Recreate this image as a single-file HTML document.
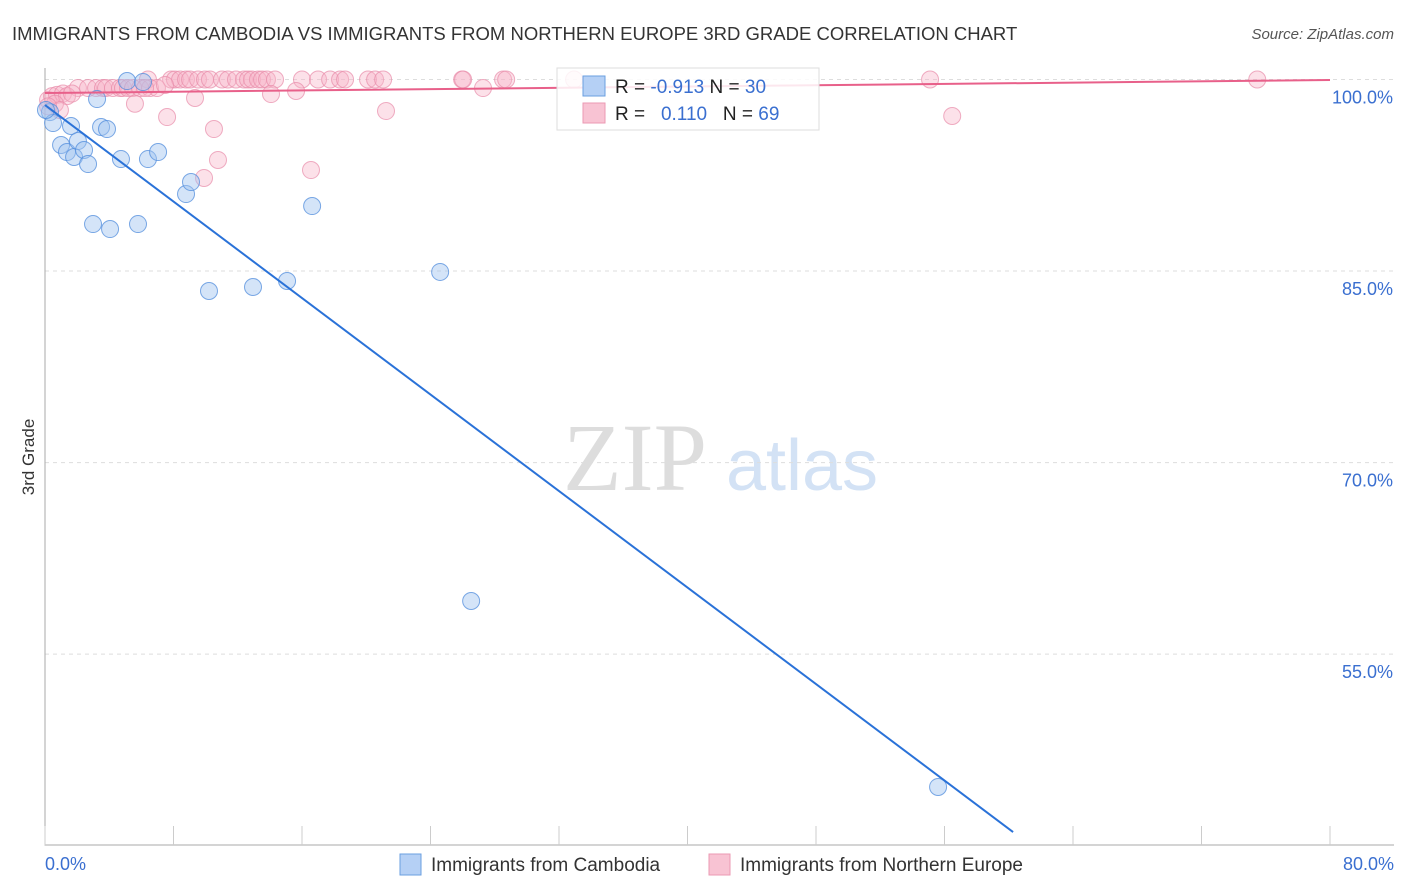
<!DOCTYPE html>
<html><head><meta charset="utf-8"><style>
body{margin:0;background:#fff;font-family:"Liberation Sans",sans-serif;}
#wrap{position:relative;width:1406px;height:892px;overflow:hidden;}
</style></head><body>
<div id="wrap">
<svg id="svg" width="1406" height="892" xmlns="http://www.w3.org/2000/svg">
<text x="12" y="40" font-size="18.5" fill="#333">IMMIGRANTS FROM CAMBODIA VS IMMIGRANTS FROM NORTHERN EUROPE 3RD GRADE CORRELATION CHART</text>
<text x="1394" y="39" font-size="15" fill="#555" font-style="italic" text-anchor="end">Source: ZipAtlas.com</text>
<text x="34" y="457" font-size="17" fill="#333" transform="rotate(-90 34 457)" text-anchor="middle">3rd Grade</text>
<g><text x="635" y="490" font-size="96" fill="#ddd" font-family="Liberation Serif,serif" text-anchor="middle">ZIP</text><text x="802" y="490" font-size="72" fill="#d3e2f5" text-anchor="middle">atlas</text></g>
<g id="grid"></g><g id="axes"></g><g id="pts"></g><g id="lines"></g>
<g>
<rect x="557" y="68" width="262" height="62" fill="rgba(255,255,255,0.85)" stroke="#ddd"/>
<rect x="583" y="76" width="22" height="20" fill="#b5d0f5" stroke="#6a9fe0"/>
<rect x="583" y="103" width="22" height="20" fill="#f8c3d3" stroke="#eb9ab3"/>
<text x="615" y="93" font-size="19" fill="#222">R = <tspan fill="#3a6fd0">-0.913</tspan>   N = <tspan fill="#3a6fd0">30</tspan></text>
<text x="615" y="120" font-size="19" fill="#222" xml:space="preserve">R =   <tspan fill="#3a6fd0">0.110</tspan>   N = <tspan fill="#3a6fd0">69</tspan></text>
</g>
<g>
<rect x="400" y="854" width="21" height="21" fill="#b5d0f5" stroke="#6a9fe0"/>
<text x="431" y="871" font-size="19" fill="#333">Immigrants from Cambodia</text>
<rect x="709" y="854" width="21" height="21" fill="#f8c3d3" stroke="#eb9ab3"/>
<text x="740" y="871" font-size="19" fill="#333">Immigrants from Northern Europe</text>
</g>
</svg></div>
<script>
const yTicks=[100,85,70,55];
const yTickLabels=["100.0%","85.0%","70.0%","55.0%"];
const xTicks=[0,8,16,24,32,40,48,56,64,72,80];
const xLabels=["0.0%","80.0%"];
const cambX=[0.31,0.50,0.06,1.62,1.00,1.37,1.81,2.05,2.43,2.68,3.24,3.49,3.86,2.99,4.05,4.73,5.11,5.79,6.10,6.41,7.04,8.78,9.09,10.21,12.95,15.07,16.63,24.60,26.53,55.60];
const cambY=[97.45,96.59,97.61,96.36,94.87,94.32,93.93,95.18,94.48,93.38,98.47,96.28,96.12,88.68,88.29,93.77,99.88,88.68,99.80,93.77,94.32,91.03,91.97,83.44,83.75,84.22,90.09,84.93,59.16,44.60];
const neX=[6.41,7.85,8.09,8.41,8.78,9.03,9.53,9.96,10.27,11.02,11.39,11.89,12.39,12.64,12.89,13.26,13.51,13.82,14.32,16.00,17.00,17.75,18.37,18.68,20.11,20.55,21.05,25.97,26.03,28.52,28.71,32.94,55.10,75.47,
2.05,2.68,3.18,3.61,3.80,4.23,4.67,4.86,5.17,5.48,5.92,6.54,6.97,
0.19,0.44,0.75,1.12,1.37,1.68,0.62,0.93,0.19,
5.6,7.6,9.34,10.52,10.77,9.9,14.07,15.63,16.56,21.23,27.27,56.48,6.23,7.47];
const neY=[100,100,100,100,100,100,100,100,100,100,100,100,100,100,100,100,100,100,100,100,100,100,100,100,100,100,100,100,100,100,100,100,100,100,
99.33,99.33,99.33,99.33,99.33,99.33,99.33,99.33,99.33,99.33,99.33,99.33,99.33,
98.4,98.7,98.8,98.9,98.7,98.9,98.1,97.6,97.9,
98.1,97.06,98.55,96.12,93.7,92.29,98.86,99.1,92.91,97.53,99.33,97.14,99.33,99.57];
const cambTrend=[[0,98.0],[60.27,41.07]];
const neTrend=[[0,98.94],[80,99.96]];
const X=v=>45+v*1285/80, Y=v=>79.5+(100-v)*12.77;
const NS="http://www.w3.org/2000/svg";
function mk(p,t,a){const e=document.createElementNS(NS,t);for(const k in a)e.setAttribute(k,a[k]);p.appendChild(e);return e;}
const grid=document.getElementById('grid'),axes=document.getElementById('axes'),pts=document.getElementById('pts'),lines=document.getElementById('lines');
yTicks.forEach((v,i)=>{
 const l=mk(grid,'line',{x1:45,x2:1394,y1:Y(v),y2:Y(v),stroke:'#ddd','stroke-dasharray':'4 4'});
 
 
 const t=mk(grid,'text',{x:1393,y:Y(v)+24,'font-size':18,fill:'#3a6fd0','text-anchor':'end'});t.textContent=yTickLabels[i];
 
 
});
const ax=mk(axes,'path',{d:'M45 68V845H1394',stroke:'#aaa',fill:'none'});


xTicks.forEach(v=>{const t=mk(axes,'line',{x1:X(v),x2:X(v),y1:826,y2:845,stroke:'#ccc'});
 
 });
[[0,'start',45],[80,'end',1394]].forEach((d,i)=>{const t=mk(axes,'text',{x:d[2],y:870,'font-size':18,fill:'#3a6fd0','text-anchor':d[1]});t.textContent=xLabels[i];
 
 });
neX.forEach((x,i)=>{const c=mk(pts,'circle',{cx:X(x),cy:Y(neY[i]),r:8.5,fill:'rgba(248,180,200,0.4)',stroke:'rgba(232,140,170,0.7)'});
 
 });
cambX.forEach((x,i)=>{const c=mk(pts,'circle',{cx:X(x),cy:Y(cambY[i]),r:8.5,fill:'rgba(160,196,240,0.45)',stroke:'rgba(80,140,220,0.75)'});
 
 });
const l1=mk(lines,'line',{x1:X(cambTrend[0][0]),y1:Y(cambTrend[0][1]),x2:X(cambTrend[1][0]),y2:Y(cambTrend[1][1]),stroke:'#2a72d8','stroke-width':2});


const l2=mk(lines,'line',{x1:X(neTrend[0][0]),y1:Y(neTrend[0][1]),x2:X(neTrend[1][0]),y2:Y(neTrend[1][1]),stroke:'#e8608a','stroke-width':2});


</script>
</body></html>
